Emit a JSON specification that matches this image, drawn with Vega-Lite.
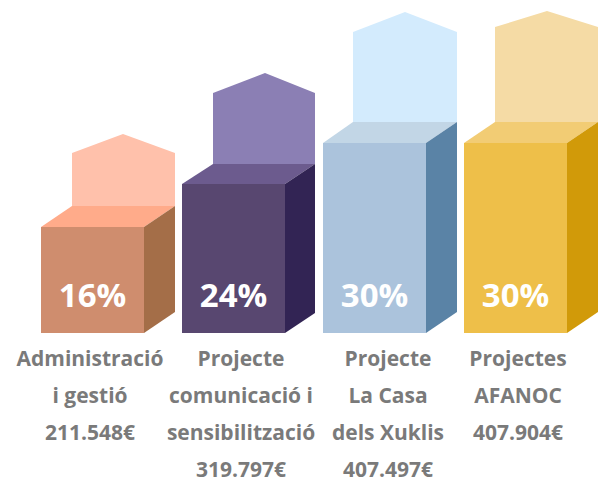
{
  "$schema": "https://vega.github.io/schema/vega-lite/v6.json",
  "width": 598,
  "height": 484,
  "autosize": {"type": "fit", "contains": "padding"},
  "padding": 0,
  "background": "white",
  "config": {"view": {"stroke": null}},
  "datasets": {
    "bars": [
      {"bar": "Administració i gestió", "pct": "16%", "label": "Administració\ni gestió\n211.548€", "x0": 41, "x1": 144, "xc": 92.5, "lx": 90, "h": 106},
      {"bar": "Projecte comunicació i sensibilització", "pct": "24%", "label": "Projecte\ncomunicació i\nsensibilització\n319.797€", "x0": 182, "x1": 285, "xc": 233.5, "lx": 241, "h": 149},
      {"bar": "Projecte La Casa dels Xuklis", "pct": "30%", "label": "Projecte\nLa Casa\ndels Xuklis\n407.497€", "x0": 323, "x1": 426, "xc": 374.5, "lx": 388, "h": 190},
      {"bar": "Projectes AFANOC", "pct": "30%", "label": "Projectes\nAFANOC\n407.904€", "x0": 464, "x1": 567, "xc": 515.5, "lx": 518, "h": 190}
    ],
    "backs": [
      {"bar": "Administració i gestió", "x": 72, "top": 180, "base": 127},
      {"bar": "Administració i gestió", "x": 123, "top": 199, "base": 127},
      {"bar": "Administració i gestió", "x": 175, "top": 180, "base": 127},
      {"bar": "Projecte comunicació i sensibilització", "x": 213, "top": 240, "base": 169},
      {"bar": "Projecte comunicació i sensibilització", "x": 265, "top": 260, "base": 169},
      {"bar": "Projecte comunicació i sensibilització", "x": 315, "top": 240, "base": 169},
      {"bar": "Projecte La Casa dels Xuklis", "x": 353, "top": 301, "base": 211},
      {"bar": "Projecte La Casa dels Xuklis", "x": 405, "top": 321, "base": 211},
      {"bar": "Projecte La Casa dels Xuklis", "x": 457, "top": 301, "base": 211},
      {"bar": "Projectes AFANOC", "x": 495, "top": 306, "base": 211},
      {"bar": "Projectes AFANOC", "x": 547, "top": 322, "base": 211},
      {"bar": "Projectes AFANOC", "x": 598, "top": 306, "base": 211}
    ],
    "tops": [
      {"bar": "Administració i gestió", "y": 106, "xl": 41, "xr": 144},
      {"bar": "Administració i gestió", "y": 127, "xl": 72, "xr": 175},
      {"bar": "Projecte comunicació i sensibilització", "y": 149, "xl": 182, "xr": 285},
      {"bar": "Projecte comunicació i sensibilització", "y": 169, "xl": 213, "xr": 315},
      {"bar": "Projecte La Casa dels Xuklis", "y": 190, "xl": 323, "xr": 426},
      {"bar": "Projecte La Casa dels Xuklis", "y": 211, "xl": 353, "xr": 457},
      {"bar": "Projectes AFANOC", "y": 190, "xl": 464, "xr": 567},
      {"bar": "Projectes AFANOC", "y": 211, "xl": 495, "xr": 598}
    ],
    "sides": [
      {"bar": "Administració i gestió", "x": 144, "lo": 0, "hi": 106},
      {"bar": "Administració i gestió", "x": 175, "lo": 21, "hi": 127},
      {"bar": "Projecte comunicació i sensibilització", "x": 285, "lo": 0, "hi": 149},
      {"bar": "Projecte comunicació i sensibilització", "x": 315, "lo": 20, "hi": 169},
      {"bar": "Projecte La Casa dels Xuklis", "x": 426, "lo": 0, "hi": 190},
      {"bar": "Projecte La Casa dels Xuklis", "x": 457, "lo": 21, "hi": 211},
      {"bar": "Projectes AFANOC", "x": 567, "lo": 0, "hi": 190},
      {"bar": "Projectes AFANOC", "x": 598, "lo": 21, "hi": 211}
    ]
  },
  "resolve": {"scale": {"color": "independent"}},
  "layer": [
    {
      "data": {"name": "backs"},
      "mark": {"type": "area", "orient": "vertical", "interpolate": "linear"},
      "encoding": {
        "x": {"field": "x", "type": "quantitative", "scale": {"domain": [0, 598], "nice": false, "zero": false}, "axis": null},
        "y": {"field": "top", "type": "quantitative", "stack": null, "scale": {"domain": [-151, 333], "nice": false, "zero": false}, "axis": null},
        "y2": {"field": "base"},
        "color": {"field": "bar", "type": "nominal", "legend": null,
          "scale": {"domain": ["Administració i gestió", "Projecte comunicació i sensibilització", "Projecte La Casa dels Xuklis", "Projectes AFANOC"], "range": ["#ffc1ab", "#8b7fb4", "#d3ebfd", "#f5dba5"]}}
      }
    },
    {
      "data": {"name": "tops"},
      "mark": {"type": "area", "orient": "horizontal", "interpolate": "linear"},
      "encoding": {
        "y": {"field": "y", "type": "quantitative", "stack": null, "scale": {"domain": [-151, 333], "nice": false, "zero": false}, "axis": null},
        "x": {"field": "xl", "type": "quantitative", "stack": null, "scale": {"domain": [0, 598], "nice": false, "zero": false}, "axis": null},
        "x2": {"field": "xr"},
        "color": {"field": "bar", "type": "nominal", "legend": null,
          "scale": {"domain": ["Administració i gestió", "Projecte comunicació i sensibilització", "Projecte La Casa dels Xuklis", "Projectes AFANOC"], "range": ["#ffab8a", "#6c5b8e", "#c2d6e6", "#f2cc74"]}}
      }
    },
    {
      "data": {"name": "sides"},
      "mark": {"type": "area", "orient": "vertical", "interpolate": "linear"},
      "encoding": {
        "x": {"field": "x", "type": "quantitative", "scale": {"domain": [0, 598], "nice": false, "zero": false}, "axis": null},
        "y": {"field": "hi", "type": "quantitative", "stack": null, "scale": {"domain": [-151, 333], "nice": false, "zero": false}, "axis": null},
        "y2": {"field": "lo"},
        "color": {"field": "bar", "type": "nominal", "legend": null,
          "scale": {"domain": ["Administració i gestió", "Projecte comunicació i sensibilització", "Projecte La Casa dels Xuklis", "Projectes AFANOC"], "range": ["#a46e48", "#322454", "#5a83a6", "#d19a09"]}}
      }
    },
    {
      "data": {"name": "bars"},
      "mark": {"type": "rect"},
      "encoding": {
        "x": {"field": "x0", "type": "quantitative", "scale": {"domain": [0, 598], "nice": false, "zero": false}, "axis": null},
        "x2": {"field": "x1"},
        "y": {"field": "h", "type": "quantitative", "scale": {"domain": [-151, 333], "nice": false, "zero": false}, "axis": null},
        "y2": {"datum": 0},
        "color": {"field": "bar", "type": "nominal", "legend": null,
          "scale": {"domain": ["Administració i gestió", "Projecte comunicació i sensibilització", "Projecte La Casa dels Xuklis", "Projectes AFANOC"], "range": ["#cf8d6e", "#584770", "#abc3dc", "#eebf49"]}}
      }
    },
    {
      "data": {"name": "bars"},
      "mark": {"type": "text", "font": "Open Sans", "fontWeight": "bold", "fontSize": 33, "color": "white", "align": "center", "baseline": "alphabetic"},
      "encoding": {
        "x": {"field": "xc", "type": "quantitative", "scale": {"domain": [0, 598], "nice": false, "zero": false}, "axis": null},
        "y": {"datum": 26, "type": "quantitative", "scale": {"domain": [-151, 333], "nice": false, "zero": false}, "axis": null},
        "text": {"field": "pct"}
      }
    },
    {
      "data": {"name": "bars"},
      "mark": {"type": "text", "font": "Open Sans", "fontWeight": "bold", "fontSize": 21, "color": "#7a7a7a", "align": "center", "baseline": "alphabetic", "lineBreak": "\n", "lineHeight": 37},
      "encoding": {
        "x": {"field": "lx", "type": "quantitative", "scale": {"domain": [0, 598], "nice": false, "zero": false}, "axis": null},
        "y": {"datum": -33, "type": "quantitative", "scale": {"domain": [-151, 333], "nice": false, "zero": false}, "axis": null},
        "text": {"field": "label"}
      }
    }
  ]
}
